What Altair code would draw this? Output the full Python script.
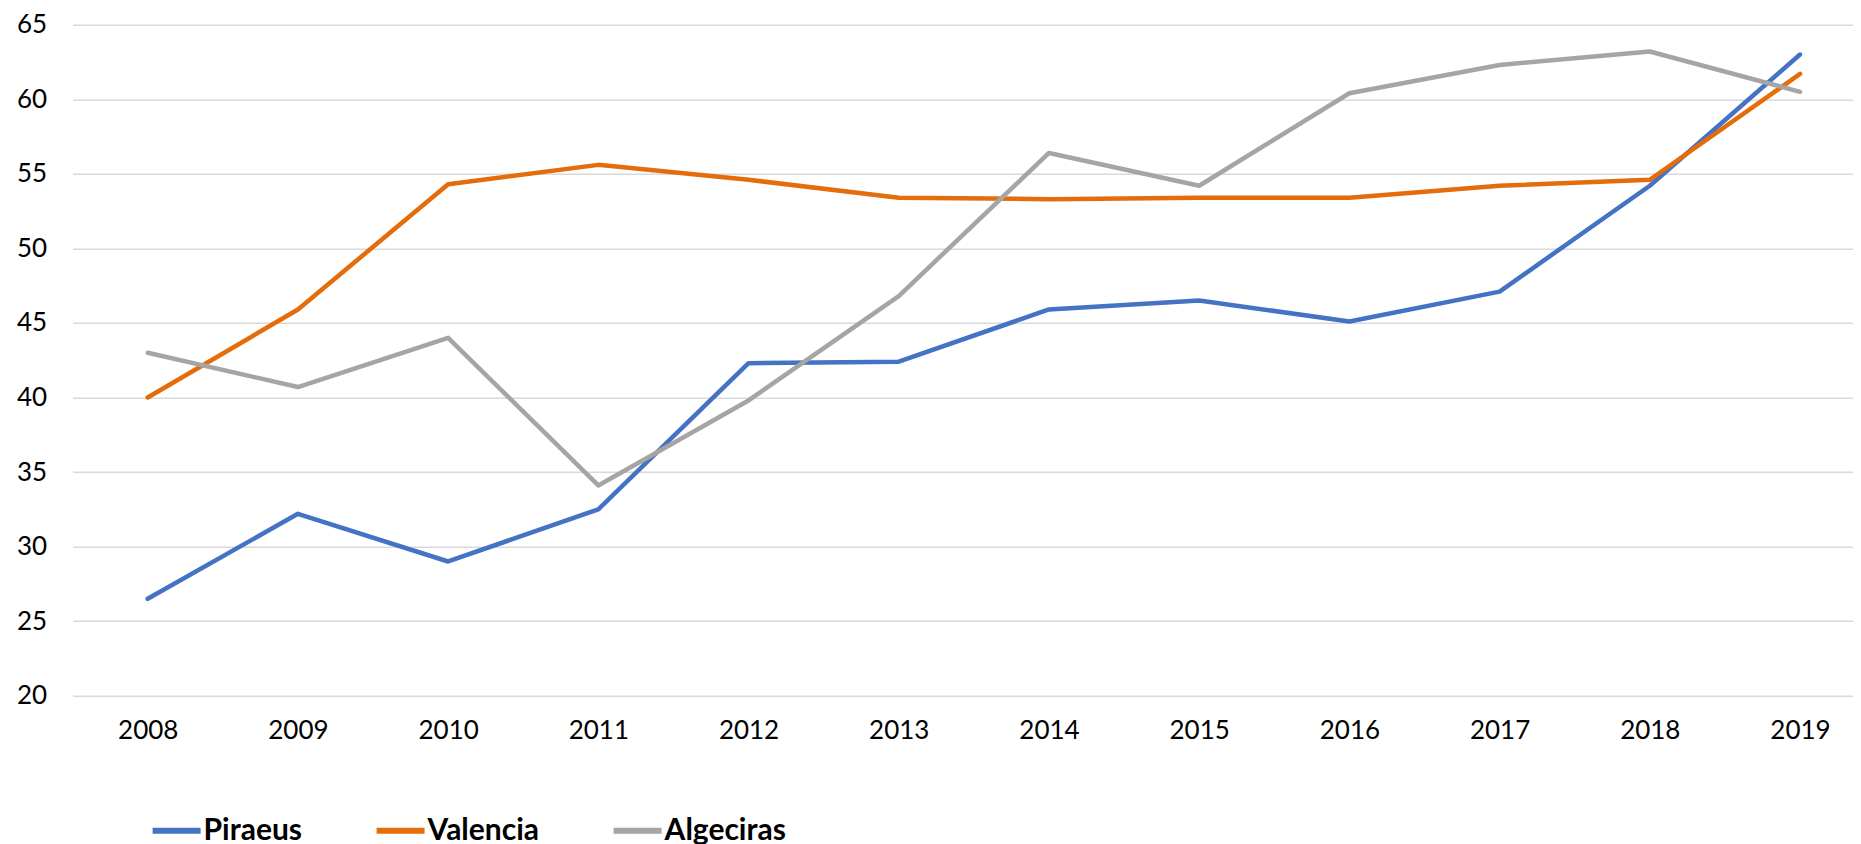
import altair as alt
import pandas as pd

years = list(range(2008, 2020))
piraeus = [26.5, 32.2, 29.0, 32.5, 42.3, 42.4, 45.9, 46.5, 45.1, 47.1, 54.2, 63.0]
valencia = [40.0, 45.9, 54.3, 55.6, 54.6, 53.4, 53.3, 53.4, 53.4, 54.2, 54.6, 61.7]
algeciras = [43.0, 40.7, 44.0, 34.1, 39.8, 46.8, 56.4, 54.2, 60.4, 62.3, 63.2, 60.5]
series_names = ["Piraeus", "Valencia", "Algeciras"]
series_colors = ["#4472C4", "#E46C0A", "#A5A5A5"]
y_ticks = [20, 25, 30, 35, 40, 45, 50, 55, 60, 65]

rows = []
for name, vals in zip(series_names, [piraeus, valencia, algeciras]):
    for yr, v in zip(years, vals):
        rows.append({"Year": yr, "Port": name, "Value": v})
df = pd.DataFrame(rows)

FONT = "Lato"

chart = alt.Chart(df).mark_line(
    strokeWidth=4.5, strokeCap="round", strokeJoin="round"
).encode(
    x=alt.X(
        "Year:Q",
        scale=alt.Scale(domain=[2007.5, 2019.35], nice=False, zero=False),
        axis=alt.Axis(values=years, format="d", title=None, grid=False, domain=False,
                      ticks=False, labelFontSize=26, labelPadding=22, labelColor="#000000",
                      labelFont=FONT, labelFlush=False),
    ),
    y=alt.Y(
        "Value:Q",
        scale=alt.Scale(domain=[20, 65], nice=False, zero=False),
        axis=alt.Axis(values=y_ticks, title=None, domain=False, ticks=False,
                      gridColor="#D9D9D9", gridWidth=1.5, labelPadding=26,
                      labelFontSize=26, labelColor="#000000", labelFont=FONT),
    ),
    color=alt.Color(
        "Port:N",
        sort=series_names,
        scale=alt.Scale(domain=series_names, range=series_colors),
        legend=alt.Legend(title=None, orient="none", legendX=77, legendY=779,
                          direction="horizontal", symbolType="stroke", symbolSize=2304,
                          symbolStrokeWidth=6, labelFontSize=30, labelFontWeight="bold",
                          labelFont=FONT, labelColor="#000000", columnPadding=62,
                          labelOffset=0, padding=0),
    ),
).properties(
    width=1780, height=671,
    padding={"left": 64.6, "top": 16.7, "right": 0, "bottom": 150},
    autosize="none",
).configure_view(stroke=None)

chart.save("out.html", embed_options={"renderer": "svg", "actions": False})
